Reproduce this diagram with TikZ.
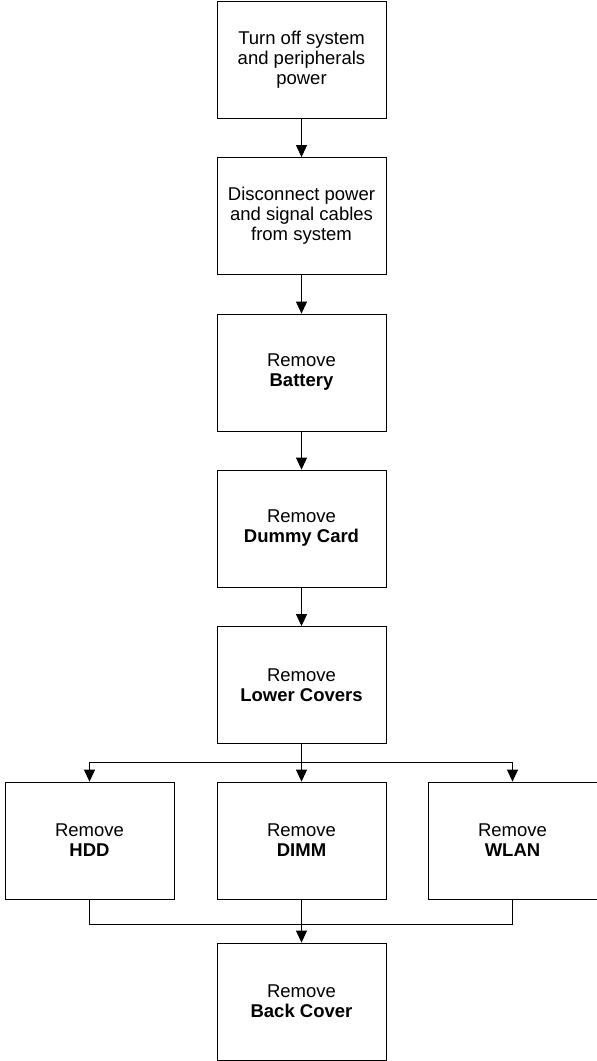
\documentclass[tikz,border=0pt]{standalone}
\usepackage{fontspec}
\setmainfont{Liberation Sans}
\usetikzlibrary{arrows.meta}

\begin{document}
\begin{tikzpicture}[x=1pt,y=-1pt,
  stepbox/.style={draw,line width=.8pt,minimum width=169pt,minimum height=117pt,inner sep=0pt,align=center,font=\fontsize{18.5}{20}\selectfont},
  flow/.style={line width=.8pt,-{Triangle[length=12pt,width=11pt]}},
  link/.style={line width=.8pt}]
\useasboundingbox (0,0) rectangle (597,1061);
\node[stepbox] (off) at (301.5,59.5) {Turn off system\\and peripherals\\power};
\node[stepbox] (cables) at (301.5,216) {Disconnect power\\and signal cables\\from system};
\node[stepbox] (battery) at (301.5,372.5) {Remove\\\textbf{Battery}};
\node[stepbox] (dummy) at (301.5,528.5) {Remove\\\textbf{Dummy Card}};
\node[stepbox] (lower) at (301.5,685) {Remove\\\textbf{Lower Covers}};
\node[stepbox] (hdd) at (89.5,840.5) {Remove\\\textbf{HDD}};
\node[stepbox] (dimm) at (301.5,840.5) {Remove\\\textbf{DIMM}};
\node[stepbox] (wlan) at (512.5,840.5) {Remove\\\textbf{WLAN}};
\node[stepbox] (back) at (301.5,1001.5) {Remove\\\textbf{Back Cover}};
\coordinate (split) at (301.5,762);
\coordinate (join) at (301.5,924);
\draw[flow] (off) -- (cables);
\draw[flow] (cables) -- (battery);
\draw[flow] (battery) -- (dummy);
\draw[flow] (dummy) -- (lower);
\draw[flow] (lower) -- (dimm);
\draw[flow] (split) -| (hdd);
\draw[flow] (split) -| (wlan);
\draw[link] (hdd) |- (join) -| (wlan);
\draw[flow] (dimm) -- (back);
\end{tikzpicture}
\end{document}
